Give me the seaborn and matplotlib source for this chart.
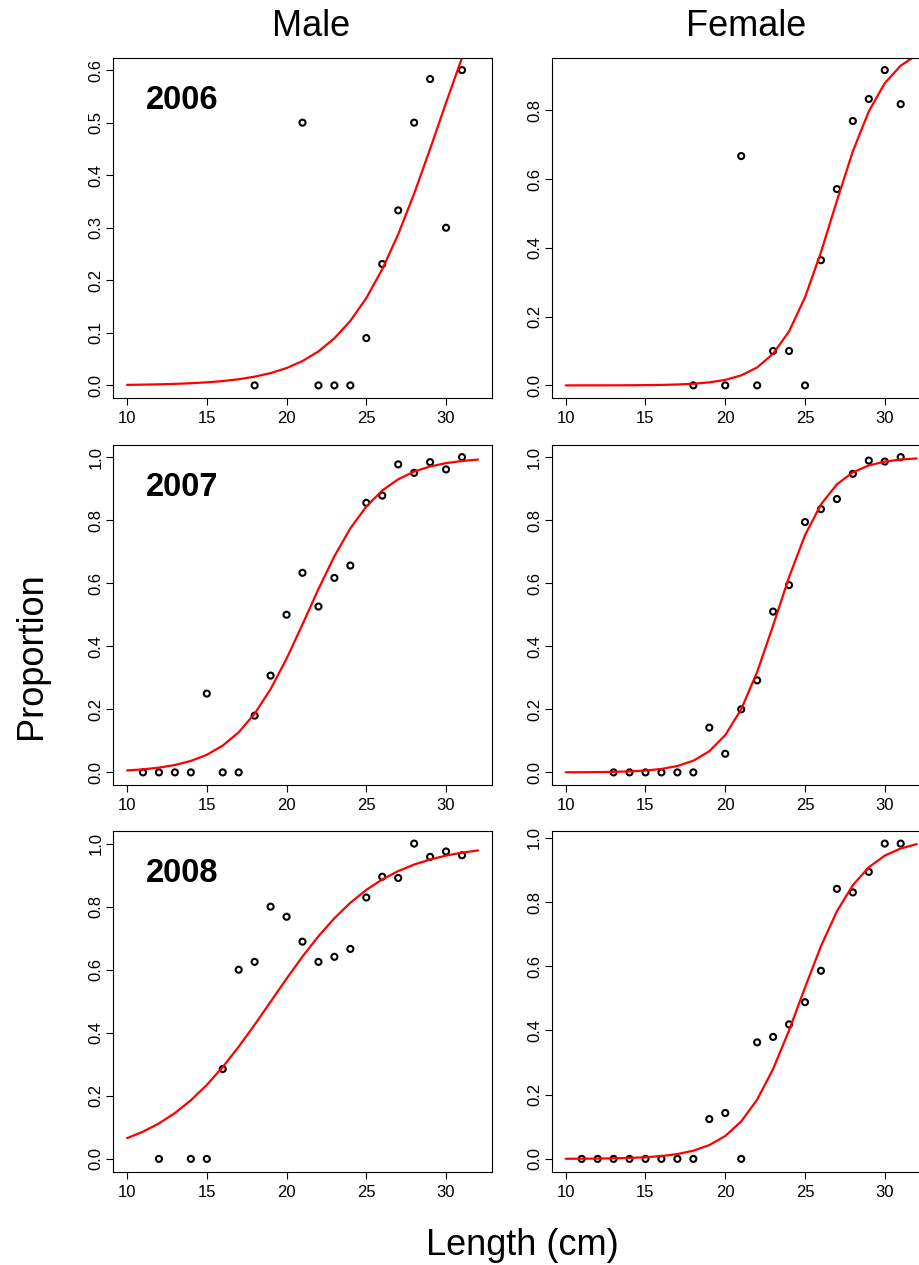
import matplotlib
matplotlib.use("Agg")
import matplotlib.pyplot as plt
import seaborn as sns

# fitted curve is drawn through these lengths
fit_len = list(range(10, 33))

# --- 2006 ---
male_2006_len = [18, 21, 22, 23, 24, 25, 26, 27, 28, 29, 30, 31]
male_2006_prop = [0.0, 0.5, 0.0, 0.0, 0.0, 0.09, 0.231, 0.333, 0.5, 0.583, 0.3, 0.6]
male_2006_fit = [0.0010, 0.0014, 0.0020, 0.0029, 0.0041, 0.0058, 0.0082, 0.0117,
                 0.0166, 0.0234, 0.0330, 0.0463, 0.0647, 0.0896, 0.1228, 0.1662,
                 0.2210, 0.2876, 0.3649, 0.4499, 0.5379, 0.6236, 0.7022]

female_2006_len = [18, 20, 21, 22, 23, 24, 25, 26, 27, 28, 29, 30, 31]
female_2006_prop = [0.0, 0.0, 0.667, 0.0, 0.1, 0.1, 0.0, 0.364, 0.571, 0.769, 0.833, 0.917, 0.818]
female_2006_fit = [0.0000, 0.0001, 0.0001, 0.0002, 0.0004, 0.0008, 0.0014, 0.0026,
                   0.0048, 0.0088, 0.0160, 0.0291, 0.0522, 0.0920, 0.1570, 0.2560,
                   0.3870, 0.5370, 0.6810, 0.7970, 0.8790, 0.9300, 0.9610]

# --- 2007 ---
male_2007_len = [11, 12, 13, 14, 15, 16, 17, 18, 19, 20, 21, 22, 23, 24, 25, 26, 27, 28, 29, 30, 31]
male_2007_prop = [0.0, 0.0, 0.0, 0.0, 0.25, 0.0, 0.0, 0.18, 0.307, 0.5, 0.633, 0.526,
                  0.617, 0.656, 0.855, 0.878, 0.977, 0.95, 0.984, 0.961, 1.0]
male_2007_fit = [0.0062, 0.0096, 0.0151, 0.0234, 0.0363, 0.0558, 0.0850, 0.1272,
                 0.1862, 0.2642, 0.3605, 0.4695, 0.5815, 0.6857, 0.7740, 0.8432,
                 0.8941, 0.9297, 0.9542, 0.9703, 0.9809, 0.9877, 0.9922]

female_2007_len = [13, 14, 15, 16, 17, 18, 19, 20, 21, 22, 23, 24, 25, 26, 27, 28, 29, 30, 31]
female_2007_prop = [0.0, 0.0, 0.0, 0.0, 0.0, 0.0, 0.142, 0.059, 0.2, 0.292, 0.51,
                    0.594, 0.794, 0.835, 0.867, 0.947, 0.989, 0.986, 1.0]
female_2007_fit = [0.0003, 0.0005, 0.0009, 0.0017, 0.0032, 0.0059, 0.0109, 0.0202,
                   0.0371, 0.0670, 0.1182, 0.2002, 0.3184, 0.4658, 0.6194, 0.7523,
                   0.8500, 0.9137, 0.9518, 0.9736, 0.9857, 0.9923, 0.9958]

# --- 2008 ---
male_2008_len = [12, 14, 15, 16, 17, 18, 19, 20, 21, 22, 23, 24, 25, 26, 27, 28, 29, 30, 31]
male_2008_prop = [0.0, 0.0, 0.0, 0.285, 0.6, 0.625, 0.8, 0.768, 0.689, 0.625, 0.641,
                  0.666, 0.829, 0.895, 0.891, 1.0, 0.958, 0.975, 0.963]
male_2008_fit = [0.0657, 0.0863, 0.1124, 0.1453, 0.1859, 0.2345, 0.2913, 0.3557,
                 0.4255, 0.4985, 0.5715, 0.6418, 0.7062, 0.7633, 0.8125, 0.8532,
                 0.8864, 0.9129, 0.9336, 0.9497, 0.9620, 0.9714, 0.9785]

female_2008_len = [11, 12, 13, 14, 15, 16, 17, 18, 19, 20, 21, 22, 23, 24, 25, 26, 27, 28, 29, 30, 31]
female_2008_prop = [0.0, 0.0, 0.0, 0.0, 0.0, 0.0, 0.0, 0.0, 0.124, 0.143, 0.0, 0.363,
                    0.38, 0.419, 0.488, 0.586, 0.841, 0.83, 0.894, 0.982, 0.982]
female_2008_fit = [0.0003, 0.0006, 0.0010, 0.0018, 0.0030, 0.0051, 0.0088, 0.0150,
                   0.0255, 0.0429, 0.0714, 0.1166, 0.1847, 0.2799, 0.4001, 0.5337,
                   0.6626, 0.7712, 0.8526, 0.9084, 0.9446, 0.9669, 0.9804]

x_ticks = [10, 15, 20, 25, 30]
y_ticks_male_2006 = [0.0, 0.1, 0.2, 0.3, 0.4, 0.5, 0.6]
y_ticks_female_2006 = [0.0, 0.2, 0.4, 0.6, 0.8]
y_ticks_full = [0.0, 0.2, 0.4, 0.6, 0.8, 1.0]


def plot_panel(ax, lens, props, fit, yticks, year=None):
    sns.lineplot(x=fit_len, y=fit, ax=ax, color="red", linewidth=1.6,
                 errorbar=None, sort=False)
    sns.scatterplot(x=lens, y=props, ax=ax, marker="o", s=19,
                    facecolor="none", edgecolor="black", linewidth=1.5)
    # R style: axis range = data range padded by 4%
    xr = 32 - 10
    ax.set_xlim(10 - 0.04 * xr, 32 + 0.04 * xr)
    lo, hi = min(props), max(props)
    yr = hi - lo
    ax.set_ylim(lo - 0.04 * yr, hi + 0.04 * yr)
    ax.set_xticks(x_ticks)
    ax.set_yticks(yticks)
    ax.set_yticklabels([f"{t:.1f}" for t in yticks], rotation=90, va="center", ha="right")
    ax.tick_params(direction="out", length=5, width=0.8, labelsize=12,
                   color="black", labelcolor="black")
    ax.tick_params(axis="x", pad=4.5)
    ax.tick_params(axis="y", pad=2)
    ax.set_xlabel("")
    ax.set_ylabel("")
    for sp in ax.spines.values():
        sp.set_visible(True)
        sp.set_color("black")
        sp.set_linewidth(0.8)
    if year is not None:
        ax.text(0.087, 0.875, year, transform=ax.transAxes, fontsize=23.5,
                fontweight="bold", ha="left", va="center", color="black")


if __name__ == "__main__":
    sns.set_style("ticks")
    plt.rcParams["font.family"] = ["Liberation Sans", "DejaVu Sans"]
    plt.rcParams["text.color"] = "black"
    plt.rcParams["axes.labelcolor"] = "black"

    fig = plt.figure(figsize=(9.19, 12.65), dpi=100)
    W, H = 919, 1265
    col_left = [113, 551.7]
    row_top = [57.5, 444.5, 831]
    pw, ph = 379, 340.5

    panels = [
        (male_2006_len, male_2006_prop, male_2006_fit, y_ticks_male_2006, "2006"),
        (female_2006_len, female_2006_prop, female_2006_fit, y_ticks_female_2006, None),
        (male_2007_len, male_2007_prop, male_2007_fit, y_ticks_full, "2007"),
        (female_2007_len, female_2007_prop, female_2007_fit, y_ticks_full, None),
        (male_2008_len, male_2008_prop, male_2008_fit, y_ticks_full, "2008"),
        (female_2008_len, female_2008_prop, female_2008_fit, y_ticks_full, None),
    ]

    for i, (lens, props, fit, yticks, year) in enumerate(panels):
        r, c = divmod(i, 2)
        ax = fig.add_axes([col_left[c] / W, 1 - (row_top[r] + ph) / H, pw / W, ph / H])
        plot_panel(ax, lens, props, fit, yticks, year)

    fig.text(310.7 / W, 1 - 36 / H, "Male", fontsize=26, ha="center", va="baseline", color="black")
    fig.text(746 / W, 1 - 36 / H, "Female", fontsize=26, ha="center", va="baseline", color="black")
    fig.text(32 / W, 1 - 656 / H, "Proportion", fontsize=26, rotation=90,
             ha="center", va="center", color="black")
    fig.text(522 / W, 1 - 1255 / H, "Length (cm)", fontsize=26, ha="center",
             va="baseline", color="black")

    fig.savefig("out.png", dpi=100)
